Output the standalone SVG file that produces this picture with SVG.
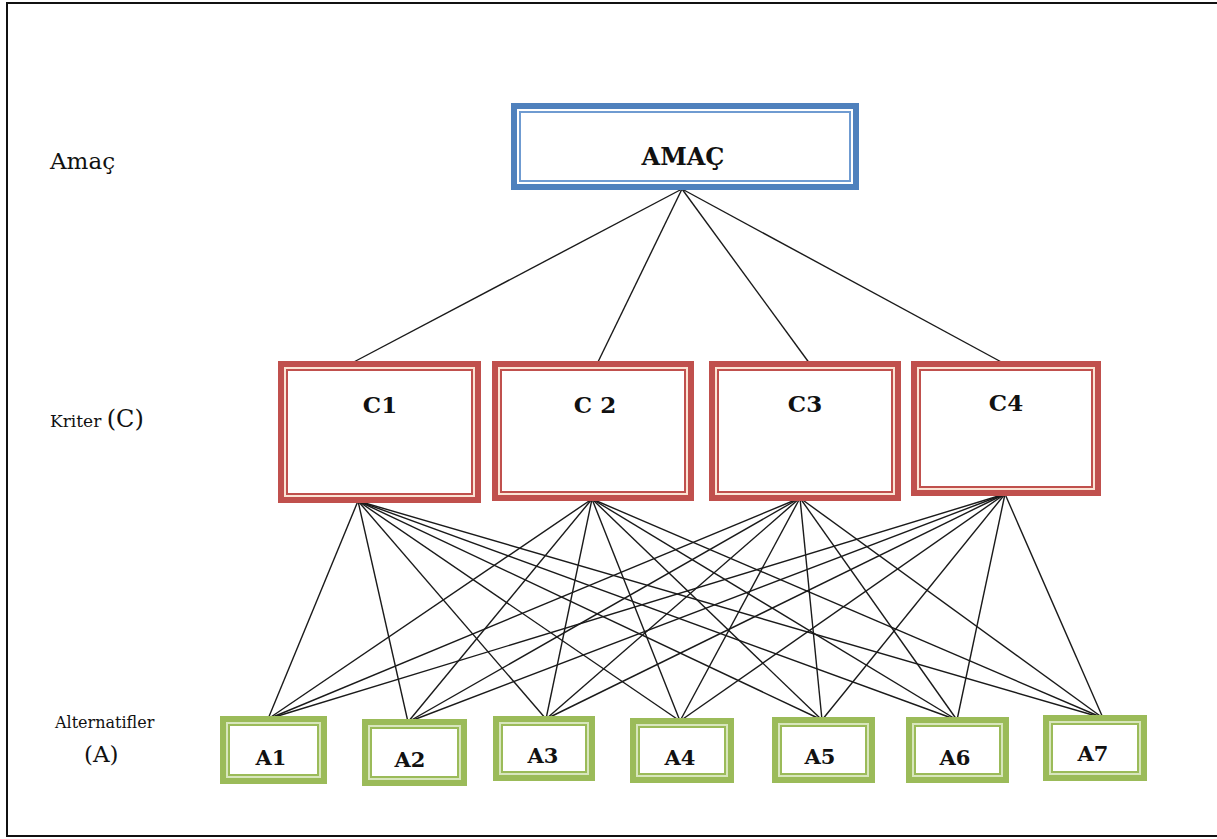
<svg xmlns="http://www.w3.org/2000/svg" width="1217" height="839" viewBox="0 0 1217 839">
<style>
.lbl{font-family:"DejaVu Serif","Liberation Serif",serif;fill:#111}
.nt{font-family:"DejaVu Serif","Liberation Serif",serif;font-weight:bold;fill:#111;text-anchor:middle}
.bo{fill:#fff;stroke:#4f81bd;stroke-width:6}
.bi{fill:none;stroke:#6f9bd1;stroke-width:2}
.ro{fill:#fbe4d5;stroke:#c0504d;stroke-width:6}
.ri{fill:#fff;stroke:#c0504d;stroke-width:2}
.go{fill:#d8e6bd;stroke:#9bbb59;stroke-width:6}
.gi{fill:#fff;stroke:#9bbb59;stroke-width:2}
.cn line{stroke:#1a1a1a;stroke-width:1.4}
</style>
<rect x="0" y="0" width="1217" height="839" fill="#fff"/>
<rect x="7" y="3" width="1220" height="833" fill="none" stroke="#111" stroke-width="2"/>
<text class="lbl" x="50" y="169" font-size="23">Amaç</text>
<text class="lbl" x="50" y="427" font-size="17">Kriter <tspan font-size="24">(C)</tspan></text>
<text class="lbl" x="55" y="728" font-size="16">Alternatifler</text>
<text class="lbl" x="84" y="762" font-size="23">(A)</text>
<g class="cn">
<line x1="682" y1="189" x2="350" y2="364"/>
<line x1="682" y1="189" x2="597" y2="364"/>
<line x1="682" y1="189" x2="810" y2="364"/>
<line x1="682" y1="189" x2="1005" y2="364"/>
<line x1="358" y1="501" x2="268" y2="719"/><line x1="358" y1="501" x2="408" y2="722"/><line x1="358" y1="501" x2="546" y2="719"/><line x1="358" y1="501" x2="680" y2="721"/><line x1="358" y1="501" x2="822" y2="720"/><line x1="358" y1="501" x2="957" y2="720"/><line x1="358" y1="501" x2="1103" y2="718"/>
<line x1="592" y1="499" x2="268" y2="719"/><line x1="592" y1="499" x2="408" y2="722"/><line x1="592" y1="499" x2="546" y2="719"/><line x1="592" y1="499" x2="680" y2="721"/><line x1="592" y1="499" x2="822" y2="720"/><line x1="592" y1="499" x2="957" y2="720"/><line x1="592" y1="499" x2="1103" y2="718"/>
<line x1="800" y1="498" x2="268" y2="719"/><line x1="800" y1="498" x2="408" y2="722"/><line x1="800" y1="498" x2="546" y2="719"/><line x1="800" y1="498" x2="680" y2="721"/><line x1="800" y1="498" x2="822" y2="720"/><line x1="800" y1="498" x2="957" y2="720"/><line x1="800" y1="498" x2="1103" y2="718"/>
<line x1="1005" y1="494" x2="268" y2="719"/><line x1="1005" y1="494" x2="408" y2="722"/><line x1="1005" y1="494" x2="546" y2="719"/><line x1="1005" y1="494" x2="680" y2="721"/><line x1="1005" y1="494" x2="822" y2="720"/><line x1="1005" y1="494" x2="957" y2="720"/><line x1="1005" y1="494" x2="1103" y2="718"/>
</g>
<g id="amac">
<rect class="bo" x="514" y="106" width="342" height="81"/>
<rect class="bi" x="520" y="112" width="330" height="69"/>
<text class="nt" x="683" y="165" font-size="24">AMAÇ</text>
</g>
<g id="c1">
<rect class="ro" x="281" y="364" width="197" height="136"/>
<rect class="ri" x="287" y="370" width="185" height="124"/>
<text class="nt" x="380" y="413" font-size="23">C1</text>
</g>
<g id="c2">
<rect class="ro" x="495" y="364" width="196" height="134"/>
<rect class="ri" x="501" y="370" width="184" height="122"/>
<text class="nt" x="595" y="413" font-size="23">C 2</text>
</g>
<g id="c3">
<rect class="ro" x="712" y="364" width="186" height="134"/>
<rect class="ri" x="718" y="370" width="174" height="122"/>
<text class="nt" x="805" y="412" font-size="23">C3</text>
</g>
<g id="c4">
<rect class="ro" x="914" y="364" width="184" height="129"/>
<rect class="ri" x="920" y="370" width="172" height="117"/>
<text class="nt" x="1006" y="411" font-size="23">C4</text>
</g>
<g id="a1">
<rect class="go" x="223" y="719" width="101" height="62"/>
<rect class="gi" x="229" y="725" width="89" height="50"/>
<text class="nt" x="271" y="765" font-size="21">A1</text>
</g>
<g id="a2">
<rect class="go" x="365" y="722" width="99" height="61"/>
<rect class="gi" x="371" y="728" width="87" height="49"/>
<text class="nt" x="410" y="767" font-size="21">A2</text>
</g>
<g id="a3">
<rect class="go" x="496" y="719" width="96" height="59"/>
<rect class="gi" x="502" y="725" width="84" height="47"/>
<text class="nt" x="543" y="763" font-size="21">A3</text>
</g>
<g id="a4">
<rect class="go" x="633" y="721" width="98" height="59"/>
<rect class="gi" x="639" y="727" width="86" height="47"/>
<text class="nt" x="680" y="765" font-size="21">A4</text>
</g>
<g id="a5">
<rect class="go" x="775" y="720" width="97" height="60"/>
<rect class="gi" x="781" y="726" width="85" height="48"/>
<text class="nt" x="820" y="764" font-size="21">A5</text>
</g>
<g id="a6">
<rect class="go" x="909" y="720" width="97" height="60"/>
<rect class="gi" x="915" y="726" width="85" height="48"/>
<text class="nt" x="955" y="765" font-size="21">A6</text>
</g>
<g id="a7">
<rect class="go" x="1046" y="718" width="98" height="60"/>
<rect class="gi" x="1052" y="724" width="86" height="48"/>
<text class="nt" x="1093" y="761" font-size="21">A7</text>
</g>
</svg>
